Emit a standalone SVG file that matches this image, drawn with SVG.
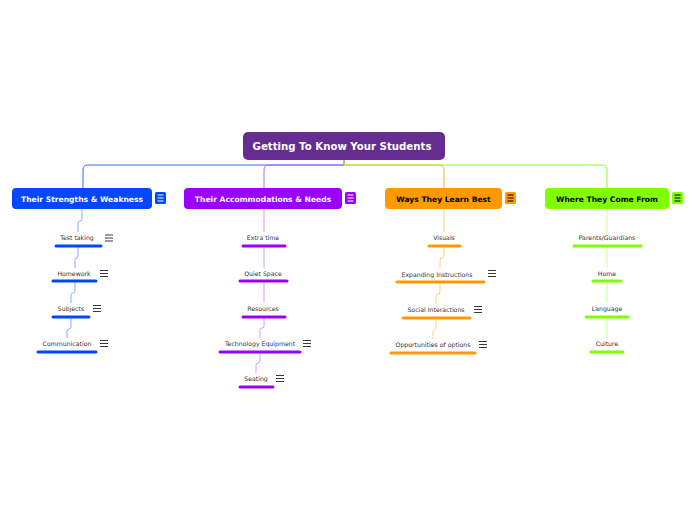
<svg xmlns="http://www.w3.org/2000/svg" width="696" height="520" viewBox="0 0 696 520">
<defs>
<style>
.root{fill:#662D91}
.rt{font-family:"DejaVu Sans",Verdana,sans-serif;font-size:10.2px;font-weight:bold;fill:#fff;text-anchor:middle}
.bt{font-family:"DejaVu Sans",Verdana,sans-serif;font-size:7.6px;font-weight:bold;text-anchor:middle}
.st{font-family:"DejaVu Sans",Verdana,sans-serif;font-size:6.2px;fill:#333;text-anchor:middle}
.ul{stroke-width:3;stroke-linecap:round;fill:none}
.c{fill:none;stroke-width:1}
.ham{stroke-width:1;fill:none}
.hk{stroke:#222;stroke-width:0.9;fill:none}
</style>
<g id="hamSub"><path class="hk" d="M0,0.5H8M0,3.5H8M0,6.5H8"/></g>
</defs>
<rect width="696" height="520" fill="#fff"/>
<g id="connectors">
<path class="c" stroke="#3366ff" d="M344,160V165H88Q83,165 83,170V188"/>
<path class="c" stroke="#b266ff" d="M344,160V165H269Q264,165 264,170V188"/>
<path class="c" stroke="#ffaa33" d="M344,160V165H439Q444,165 444,170V188"/>
<path class="c" stroke="#8cff1a" d="M344,160V165H602Q607,165 607,170V188"/>
<g stroke="#8fa9ff" class="c">
<path d="M82,209V219Q82,221 80,221H80Q78,221 78,223V232"/>
<path d="M78,246V256Q78,258 76.5,258Q75,258 75,260V268"/>
<path d="M75,281V291Q75,293 73,293Q71,293 71,295V303"/>
<path d="M71,317V327Q71,329 69,329Q67,329 67,331V338"/>
</g>
<g stroke="#d39bff" class="c">
<path d="M264,209V232"/>
<path d="M264,246V268"/>
<path d="M264,281V303"/>
<path d="M264,317V326Q264,328 262,328Q260,328 260,330V338"/>
<path d="M260,352V361Q260,363 258,363Q256,363 256,365V373"/>
</g>
<g stroke="#ffcf80" class="c">
<path d="M444,209V232"/>
<path d="M444,246V256Q444,258 442,258Q440,258 440,260V269"/>
<path d="M440,282V292Q440,294 438,294Q436,294 436,296V304"/>
<path d="M436,318V328Q436,330 434.5,330Q433,330 433,332V339"/>
</g>
<g stroke="#c6ff8c" class="c">
<path d="M607,209V233"/>
<path d="M607,246V268"/>
<path d="M607,281V303"/>
<path d="M607,317V338"/>
</g>
</g>
<g id="root">
<rect class="root" x="243" y="132" width="202" height="28" rx="5"/>
<text class="rt" x="342" y="149.8">Getting To Know Your Students</text>
</g>
<g id="b1">
<rect x="12" y="188" width="140" height="21" rx="4" fill="#0047FF"/>
<text class="bt" x="82" y="201.5" fill="#fff">Their Strengths &amp; Weakness</text>
<rect x="155" y="192" width="11" height="12" rx="1.5" fill="#0047FF"/>
<path class="ham" stroke="#fff" d="M157.5,195H163.5M157.5,198H163.5M157.5,201H163.5"/>
</g>
<g id="b2">
<rect x="184" y="188" width="158" height="21" rx="4" fill="#9900FF"/>
<text class="bt" x="263" y="201.5" fill="#fff">Their Accommodations &amp; Needs</text>
<rect x="345" y="192" width="11" height="12" rx="1.5" fill="#9900FF"/>
<path class="ham" stroke="#fff" d="M347.5,195H353.5M347.5,198H353.5M347.5,201H353.5"/>
</g>
<g id="b3">
<rect x="385" y="188" width="117" height="21" rx="4" fill="#FF9900"/>
<text class="bt" x="443.5" y="201.5" fill="#000">Ways They Learn Best</text>
<rect x="505" y="192" width="11" height="12" rx="1.5" fill="#FF9900"/>
<path class="ham" stroke="#000" d="M507.5,195H513.5M507.5,198H513.5M507.5,201H513.5"/>
</g>
<g id="b4">
<rect x="545" y="188" width="124" height="21" rx="4" fill="#80FF00"/>
<text class="bt" x="607" y="201.5" fill="#000">Where They Come From</text>
<rect x="672" y="192" width="11" height="12" rx="1.5" fill="#80FF00"/>
<path class="ham" stroke="#000" d="M674.5,195H680.5M674.5,198H680.5M674.5,201H680.5"/>
</g>
<g id="s1a"><text class="st" x="77" y="239.5">Test taking</text><path class="ul" stroke="#0047FF" d="M56,246H101"/><use href="#hamSub" x="105" y="234.5"/></g>
<g id="s1b"><text class="st" x="74" y="275.5">Homework</text><path class="ul" stroke="#0047FF" d="M53,281H96"/><use href="#hamSub" x="100" y="270"/></g>
<g id="s1c"><text class="st" x="71" y="310.5">Subjects</text><path class="ul" stroke="#0047FF" d="M53,317H89"/><use href="#hamSub" x="93" y="305"/></g>
<g id="s1d"><text class="st" x="67" y="345.5">Communication</text><path class="ul" stroke="#0047FF" d="M38,352H96"/><use href="#hamSub" x="100" y="340"/></g>
<g id="s2a"><text class="st" x="263" y="239.5">Extra time</text><path class="ul" stroke="#9900FF" d="M243,246H285"/></g>
<g id="s2b"><text class="st" x="263" y="275.5">Quiet Space</text><path class="ul" stroke="#9900FF" d="M240,281H287"/></g>
<g id="s2c"><text class="st" x="263" y="310.5">Resources</text><path class="ul" stroke="#9900FF" d="M243,317H285"/></g>
<g id="s2d"><text class="st" x="260" y="345.5">Technology Equipment</text><path class="ul" stroke="#9900FF" d="M220,352H300"/><use href="#hamSub" x="303" y="340"/></g>
<g id="s2e"><text class="st" x="256" y="380.5">Seating</text><path class="ul" stroke="#9900FF" d="M240,387H273"/><use href="#hamSub" x="276" y="375"/></g>
<g id="s3a"><text class="st" x="444" y="239.5">Visuals</text><path class="ul" stroke="#FF9900" d="M429,246H460"/></g>
<g id="s3b"><text class="st" x="437" y="276.5">Expanding Instructions</text><path class="ul" stroke="#FF9900" d="M397,282H484"/><use href="#hamSub" x="488" y="270"/></g>
<g id="s3c"><text class="st" x="436" y="311.5">Social Interactions</text><path class="ul" stroke="#FF9900" d="M403,318H470"/><use href="#hamSub" x="474" y="306"/></g>
<g id="s3d"><text class="st" x="433" y="346.5">Opportunities of options</text><path class="ul" stroke="#FF9900" d="M391,353H475"/><use href="#hamSub" x="479" y="341"/></g>
<g id="s4a"><text class="st" x="607" y="240">Parents/Guardians</text><path class="ul" stroke="#80FF00" d="M574,246H641"/></g>
<g id="s4b"><text class="st" x="607" y="275.5">Home</text><path class="ul" stroke="#80FF00" d="M593,281H621"/></g>
<g id="s4c"><text class="st" x="607" y="310.5">Language</text><path class="ul" stroke="#80FF00" d="M586,317H628"/></g>
<g id="s4d"><text class="st" x="607" y="345.5">Culture</text><path class="ul" stroke="#80FF00" d="M591,352H623"/></g>
</svg>
